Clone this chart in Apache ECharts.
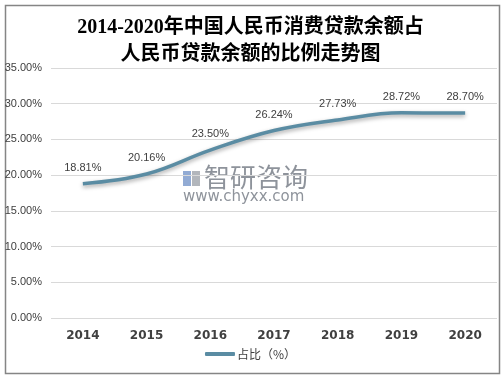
<!DOCTYPE html>
<html><head><meta charset="utf-8">
<script src="https://cdn.jsdelivr.net/npm/echarts@6/dist/echarts.min.js"></script>
<style>html,body{margin:0;padding:0;background:#fff}#c{width:501px;height:375px}</style>
</head><body><div id="c"></div>
<script>
var titleText = '2014-2020年中国人民币消费贷款余额占\n人民币贷款余额的比例走势图';
var categories = ['2014','2015','2016','2017','2018','2019','2020'];
var seriesName = '占比（%）';
var values = [18.81, 20.16, 23.50, 26.24, 27.73, 28.72, 28.70];
var yMin = 0, yMax = 35, yStep = 5;

var chart = echarts.init(document.getElementById('c'));
chart.setOption({
  backgroundColor: '#fff',
  animation: false,
  title: {
    text: titleText, left: 'center', top: 9,
    textStyle: {fontFamily: 'Liberation Serif, Noto Sans CJK SC', fontWeight: 'bold', fontSize: 20, color: '#000', lineHeight: 27}
  },
  graphic: [
    {type: 'rect', left: 3, top: 3, shape: {width: 494, height: 368}, style: {fill: 'none', stroke: '#858585', lineWidth: 1.5}, z: 0, silent: true},
    {type: 'text', left: 204, top: 164, style: {text: '智研咨询', fill: '#7a808a', font: '26px "Noto Sans CJK SC"', opacity: 0.85}, z: 0},
    {type: 'text', left: 183, top: 190, style: {text: 'www.chyxx.com', fill: '#7a808a', font: '15px "DejaVu Sans"', opacity: 0.85}, z: 0},
    {type: 'rect', left: 183, top: 171, shape: {width: 8, height: 15}, style: {fill: '#4a73b8', opacity: 0.6}, z: 0},
    {type: 'rect', left: 192, top: 171, shape: {width: 8, height: 15}, style: {fill: '#7f8590', opacity: 0.6}, z: 0}
  ],
  legend: {
    bottom: 10, left: 'center', itemWidth: 30, itemHeight: 4, itemGap: 4,
    icon: 'roundRect',
    textStyle: {fontSize: 12, color: '#404040', fontFamily: 'Noto Sans CJK SC', padding: [0, 0, 0, -3]},
    data: [{name: seriesName, itemStyle: {color: '#5a8ca3', opacity: 1}}]
  },
  grid: {left: 51, right: 4, top: 68, bottom: 57},
  xAxis: {
    type: 'category', data: categories, boundaryGap: true,
    axisLine: {show: false}, axisTick: {show: false},
    axisLabel: {fontWeight: 'bold', fontSize: 12, color: '#404040', margin: 12, fontFamily: 'DejaVu Sans'}
  },
  yAxis: {
    type: 'value', min: yMin, max: yMax, interval: yStep,
    axisLine: {show: false}, axisTick: {show: false},
    splitLine: {lineStyle: {color: '#d9d9d9'}},
    axisLabel: {fontSize: 11, color: '#404040', margin: 9, formatter: function(v){return v.toFixed(2)+'%';}}
  },
  series: [{
    name: seriesName, type: 'line', data: values, smooth: 0.4,
    symbol: 'circle', symbolSize: 1, showSymbol: true, color: '#5a8ca3',
    itemStyle: {color: 'rgba(0,0,0,0)', borderWidth: 0},
    lineStyle: {width: 3.5, color: '#5a8ca3', shadowColor: 'rgba(0,0,0,0.35)', shadowBlur: 4, shadowOffsetY: 2},
    label: {show: true, position: 'top', distance: 10, fontSize: 11, color: '#404040', formatter: function(p){return p.value.toFixed(2)+'%';}},
    z: 3
  }]
});
</script></body></html>
